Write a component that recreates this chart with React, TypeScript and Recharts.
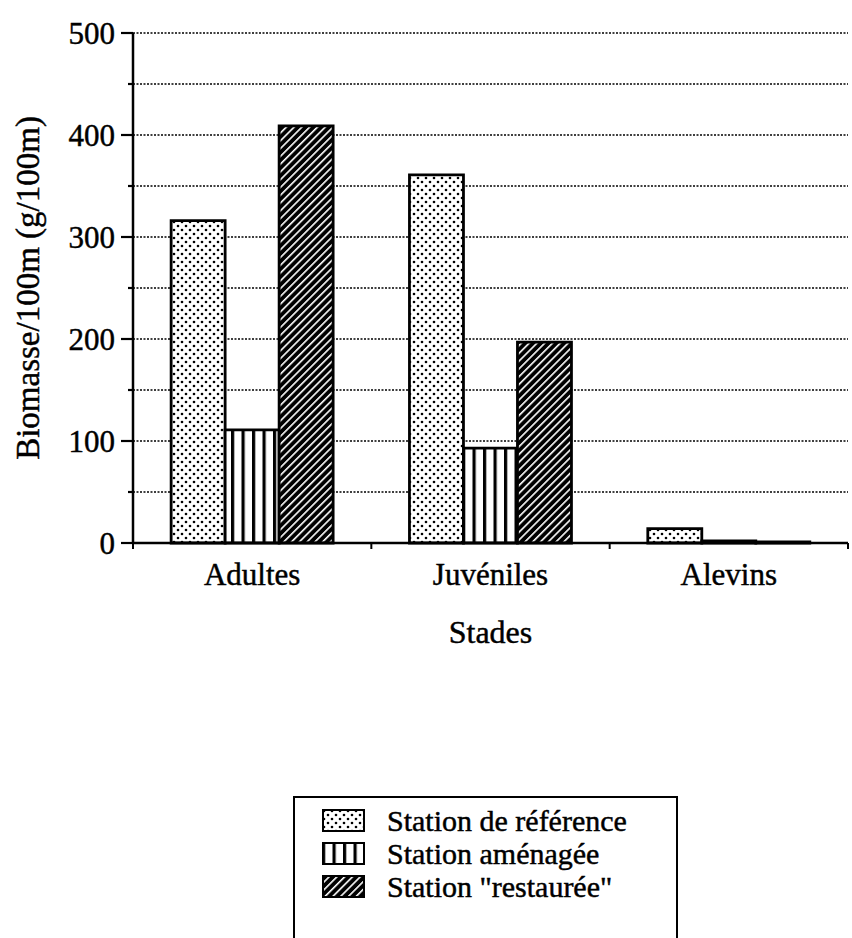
import React from 'react'
import { BarChart, Bar, XAxis, YAxis, CartesianGrid } from 'recharts'

// stades (catégories) et biomasse par station, g/100m
const stades = ['Adultes', 'Juvéniles', 'Alevins']
const stationReference = [316, 361, 14]
const stationAmenagee = [111, 93, 2]
const stationRestauree = [409, 197, 1]
const yTicks = [0, 50, 100, 150, 200, 250, 300, 350, 400, 450, 500]

const series = [
  { key: 'reference', name: 'Station de référence', fill: 'url(#pat-dots)' },
  { key: 'amenagee', name: 'Station aménagée', fill: 'url(#pat-vert)' },
  { key: 'restauree', name: 'Station "restaurée"', fill: 'url(#pat-diag)' },
]

const data = stades.map((stade, i) => ({
  stade,
  reference: stationReference[i],
  amenagee: stationAmenagee[i],
  restauree: stationRestauree[i],
}))

const FONT = '"Liberation Serif", "Times New Roman", serif'
const FS = 31
// le scan est un peu plus gras qu'un Times regular
const txt = { fontFamily: FONT, fill: '#000', stroke: '#000', strokeWidth: 0.45 }

const Patterns = () => (
  <svg width={0} height={0} style={{ position: 'absolute' }}>
    <defs>
      <pattern id="pat-dots" patternUnits="userSpaceOnUse" width={8} height={8}>
        <rect width={8} height={8} fill="#fff" />
        <circle cx={2} cy={2} r={1.3} fill="#000" />
        <circle cx={6} cy={6} r={1.3} fill="#000" />
      </pattern>
      <pattern id="pat-vert" patternUnits="userSpaceOnUse" width={10.5} height={10}>
        <rect width={10.5} height={10} fill="#fff" />
        <rect x={0} width={3.2} height={10} fill="#000" />
      </pattern>
      <pattern id="pat-diag" patternUnits="userSpaceOnUse" width={5.5} height={5.5} patternTransform="rotate(45)">
        <rect width={5.5} height={5.5} fill="#000" />
        <rect x={0} width={1.6} height={5.5} fill="#fff" />
      </pattern>
    </defs>
  </svg>
)

const renderYTick = (props: any) => {
  const { x, y, payload } = props
  const axisX = x + 18
  const major = payload.value % 100 === 0
  return (
    <g>
      <line x1={axisX - (major ? 12 : 5)} x2={axisX} y1={y} y2={y} stroke="#000" strokeWidth={2.2} />
      {major && (
        <text x={x} y={y} dy="0.34em" textAnchor="end" fontSize={FS} {...txt}>
          {payload.value}
        </text>
      )}
    </g>
  )
}

const renderXTick = (props: any) => {
  const { x, y, payload } = props
  const half = payload.offset ?? 0
  const isLast = payload.value === stades[stades.length - 1]
  return (
    <g>
      <line x1={x - half} x2={x - half} y1={y} y2={y + 6} stroke="#000" strokeWidth={2} />
      {isLast && <line x1={x + half} x2={x + half} y1={y} y2={y + 6} stroke="#000" strokeWidth={2} />}
      <text x={x} y={y + 42} textAnchor="middle" fontSize={FS} {...txt}>
        {payload.value}
      </text>
    </g>
  )
}

const XTitle = (props: any) => {
  const vb = props.viewBox
  return (
    <text x={vb.x + vb.width / 2} y={vb.y + 100} textAnchor="middle" fontSize={32} {...txt}>
      Stades
    </text>
  )
}

const YTitle = (props: any) => {
  const vb = props.viewBox
  const cx = vb.x + 39
  const cy = vb.y + vb.height / 2
  return (
    <text x={cx} y={cy} transform={`rotate(-90, ${cx}, ${cy})`} textAnchor="middle" fontSize={33} {...txt}>
      Biomasse/100m (g/100m)
    </text>
  )
}

export default function App() {
  return (
    <div style={{ position: 'absolute', left: 0, top: 0, width: 852, height: 938, background: '#fff', overflow: 'hidden' }}>
      <Patterns />
      <BarChart
        width={852}
        height={938}
        data={data}
        margin={{ top: 33, right: 4, bottom: 0, left: 0 }}
        barCategoryGap="16%"
        barGap={0}
      >
        <CartesianGrid vertical={false} stroke="#000" strokeDasharray="2 1.5" strokeWidth={1.6} />
        <XAxis
          dataKey="stade"
          height={395}
          interval={0}
          axisLine={{ stroke: '#000', strokeWidth: 2.5 }}
          tickLine={false}
          tickSize={0}
          tickMargin={0}
          tick={renderXTick}
          label={<XTitle />}
        />
        <YAxis
          width={133}
          domain={[0, 500]}
          ticks={yTicks}
          interval={0}
          axisLine={{ stroke: '#000', strokeWidth: 2.5 }}
          tickLine={false}
          tickSize={11}
          tickMargin={7}
          tick={renderYTick}
          label={<YTitle />}
        />
        {series.map(s => (
          <Bar key={s.key} dataKey={s.key} name={s.name} fill={s.fill} stroke="#000" strokeWidth={2.8} isAnimationActive={false} />
        ))}
      </BarChart>

      {/* légende encadrée, coupée en bas comme l'original */}
      <div
        style={{
          position: 'absolute', left: 293, top: 796, width: 385, height: 200,
          border: '2px solid #000', boxSizing: 'border-box',
          fontFamily: FONT, fontSize: 30, color: '#000', WebkitTextStroke: '0.45px #000',
        }}
      >
        {series.map((s, i) => (
          <div
            key={s.key}
            style={{ position: 'absolute', left: 27, top: 6 + i * 33, height: 33, display: 'flex', alignItems: 'center', whiteSpace: 'nowrap' }}
          >
            <svg width={43} height={23} style={{ flex: 'none' }}>
              <rect x={1} y={1} width={41} height={21} fill={s.fill} stroke="#000" strokeWidth={2} />
            </svg>
            <span style={{ marginLeft: 22, lineHeight: '33px' }}>{s.name}</span>
          </div>
        ))}
      </div>
    </div>
  )
}
